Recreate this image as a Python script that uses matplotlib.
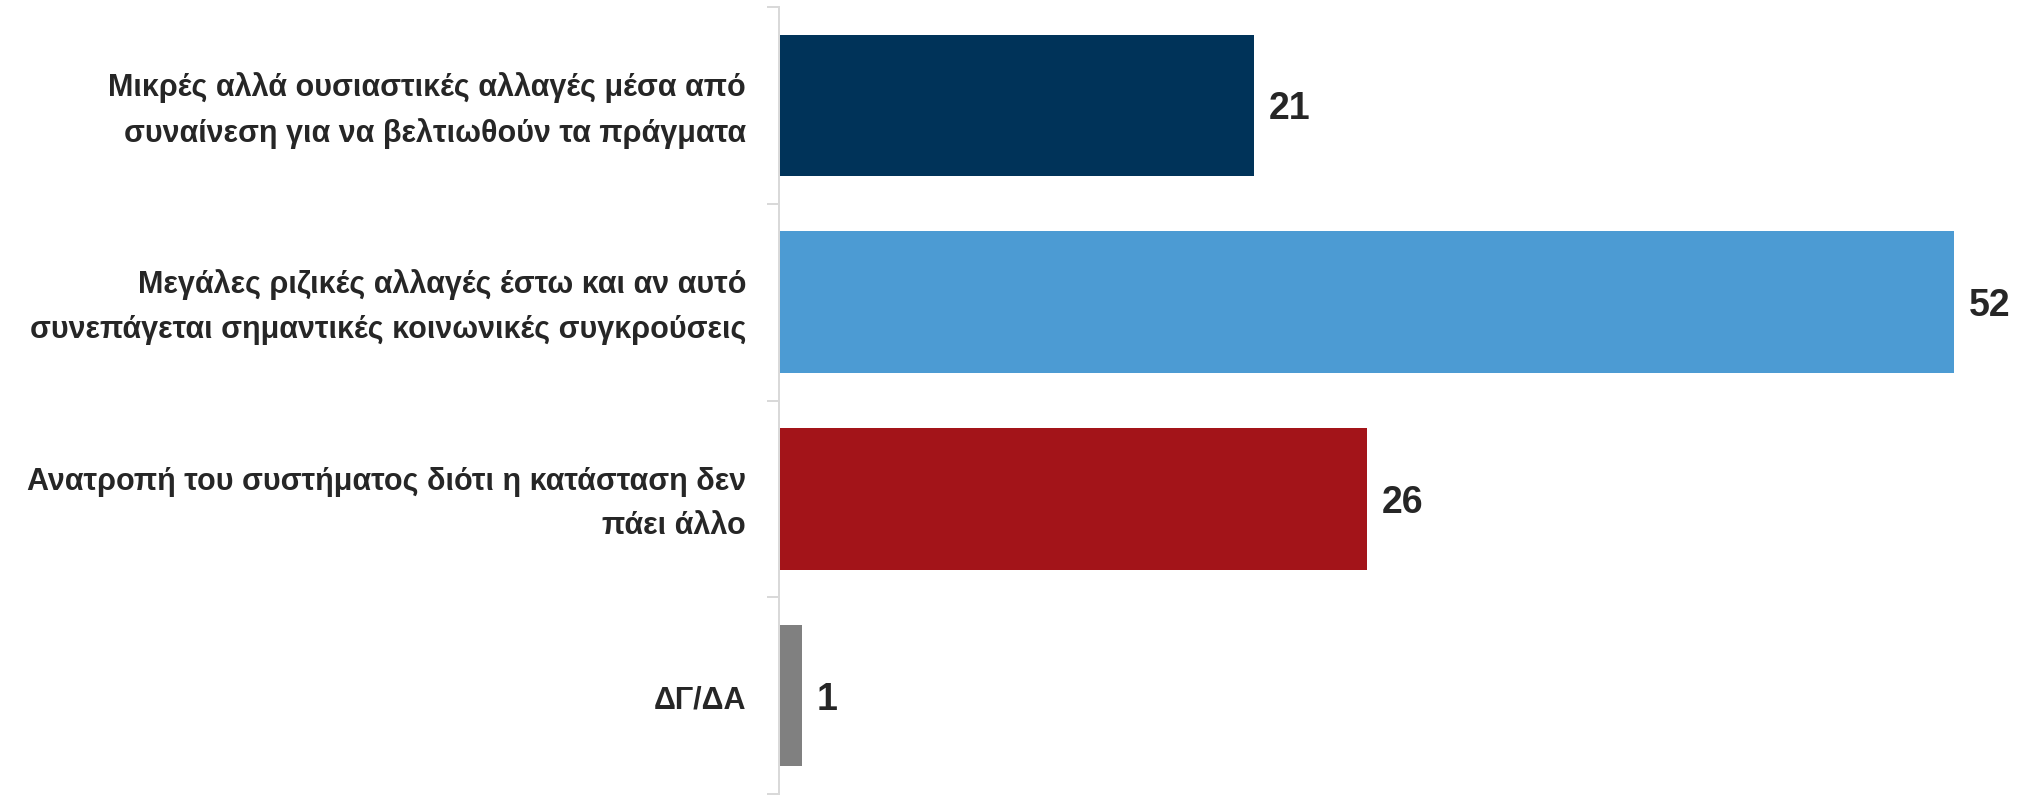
import matplotlib
matplotlib.use("Agg")
import matplotlib.pyplot as plt
from matplotlib import font_manager
from matplotlib.transforms import ScaledTranslation

categories = [
    "Μικρές αλλά ουσιαστικές αλλαγές μέσα από\nσυναίνεση για να βελτιωθούν τα πράγματα",
    "Μεγάλες ριζικές αλλαγές έστω και αν αυτό\nσυνεπάγεται σημαντικές κοινωνικές συγκρούσεις",
    "Ανατροπή του συστήματος διότι η κατάσταση δεν\nπάει άλλο",
    "ΔΓ/ΔΑ",
]
values = [21, 52, 26, 1]
colors = ["#003359", "#4C9BD3", "#A31419", "#808080"]

names = {f.name for f in font_manager.fontManager.ttflist}
fam = "Liberation Sans Narrow" if "Liberation Sans Narrow" in names else "Liberation Sans"
plt.rcParams['font.family'] = [fam, 'DejaVu Sans']

W, H = 2018, 795
fig = plt.figure(figsize=(W/100, H/100), dpi=100)
ax_left, ax_right = 779, 2010
ax_top, ax_bot = 7, 794
ax = fig.add_axes([ax_left/W, 1-ax_bot/H, (ax_right-ax_left)/W, (ax_bot-ax_top)/H])

y = list(range(len(categories)))
ax.barh(y, values, height=0.72, color=colors)
ax.set_ylim(len(categories)-0.5, -0.5)
ax.set_xlim(0, (ax_right-ax_left)/22.6)

for yi, v in zip(y, values):
    ax.annotate(str(v), (v, yi), xytext=(15, -14), textcoords='offset pixels',
                va='baseline', ha='left', fontsize=27, fontweight='bold', color='#262626')

# category labels
lab_tr = ax.get_yaxis_transform() + ScaledTranslation(-33/100, -5/100, fig.dpi_scale_trans)
for yi, c in zip(y, categories):
    ax.text(0, yi, c, transform=lab_tr, ha='right', va='center', multialignment='right',
            fontsize=22, fontweight='bold', color='#262626', linespacing=1.63, clip_on=False)

ax.set_yticks([i-0.5 for i in range(len(categories)+1)])
ax.set_yticklabels([])
ax.tick_params(axis='y', which='major', length=12*0.72, width=2*0.72, color='#d9d9d9', direction='out')
ax.set_xticks([])
for s in ['top', 'right', 'bottom']:
    ax.spines[s].set_visible(False)
ax.spines['left'].set_color('#d9d9d9')
ax.spines['left'].set_linewidth(2*0.72)

fig.savefig("out.png", dpi=100)
